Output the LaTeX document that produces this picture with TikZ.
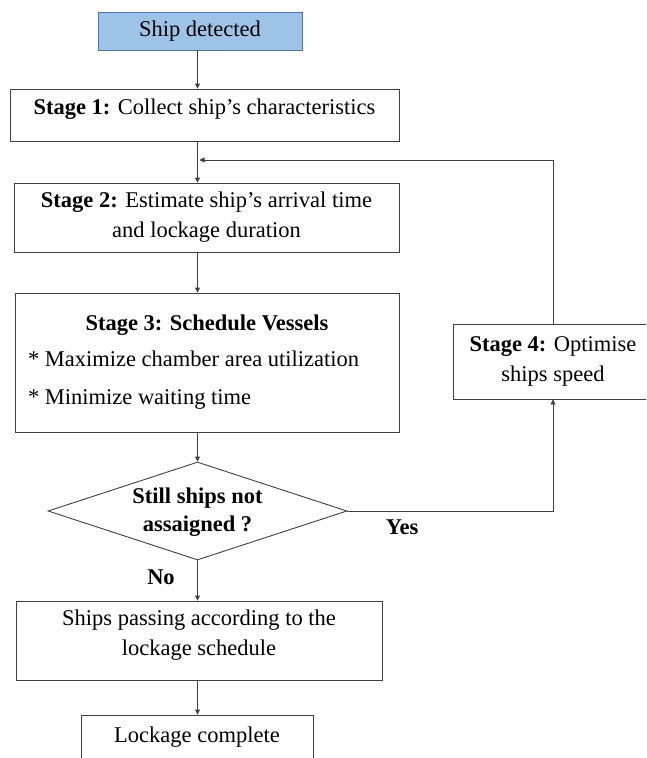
\documentclass[tikz,border=0pt]{standalone}
\usepackage{fontspec}
\setmainfont{Liberation Serif}
\usetikzlibrary{arrows.meta,shapes.geometric}

\definecolor{shipblue}{RGB}{157,195,230}
\definecolor{shipedge}{RGB}{68,114,196}

\begin{document}
\begin{tikzpicture}[x=1pt,y=-1pt,
  every node/.style={font=\fontsize{22.5}{30}\selectfont},
  stagebox/.style={draw=black!75,line width=0.9pt,rectangle,align=center,inner sep=0pt},
  startbox/.style={stagebox,draw=shipedge,fill=shipblue},
  decision/.style={draw=black!75,line width=0.9pt,diamond,aspect=3,inner sep=0pt,
    align=center,font=\fontsize{22.5}{28}\selectfont\bfseries},
  flow/.style={draw=black!75,line width=0.9pt,-{Triangle[length=5pt,width=5pt]}},
  answer/.style={font=\fontsize{22.5}{24}\selectfont\bfseries}]
  \clip (0,0) rectangle (646,758);
  % boxes of the flow
  \node[startbox,minimum width=204,minimum height=38] (detect) at (200,31) {Ship detected};
  \node[stagebox,minimum width=389,minimum height=52,text depth=16] (stage1) at (204.5,115)
    {\textbf{Stage 1:} Collect ship’s characteristics};
  \node[stagebox,minimum width=385,minimum height=69] (stage2) at (206.5,217.5)
    {\textbf{Stage 2:} Estimate ship’s arrival time\\and lockage duration};
  \node[stagebox,minimum width=384,minimum height=139,align=left,text depth=6] (stage3) at (207,362.5)
    {\makebox[358pt]{\textbf{Stage 3: Schedule Vessels}}\\[6pt]
     * Maximize chamber area utilization\\[8pt]
     * Minimize waiting time};
  \node[decision,minimum width=299,minimum height=98,text depth=3] (decide) at (197.5,511)
    {Still ships not\\assaigned ?};
  \node[stagebox,minimum width=200,minimum height=75] (stage4) at (553,361.5)
    {\textbf{Stage 4:} Optimise\\ships speed};
  \node[stagebox,minimum width=366,minimum height=79,text depth=15] (passing) at (199,640.5)
    {Ships passing according to the\\lockage schedule};
  \node[stagebox,minimum width=232,minimum height=50,text depth=10] (lockage) at (197,740)
    {Lockage complete};
  % connectors
  \coordinate (merge) at (199.5,160);
  \draw[flow] (detect.south -| decide) -- (stage1.north -| decide);
  \draw[flow] (stage1.south -| decide) -- (stage2.north -| decide);
  \draw[flow] (stage2.south -| decide) -- (stage3.north -| decide);
  \draw[flow] (stage3.south -| decide) -- (decide.north);
  \draw[flow] (decide.south) -- (passing.north -| decide);
  \draw[flow] (passing.south -| decide) -- (lockage.north -| decide);
  \draw[flow] (decide.east) -| (stage4.south);
  \draw[flow] (stage4.north) |- (merge);
  \node[answer] (yes) at (402,527) {Yes};
  \node[answer] (no) at (161,577) {No};
\end{tikzpicture}
\end{document}
